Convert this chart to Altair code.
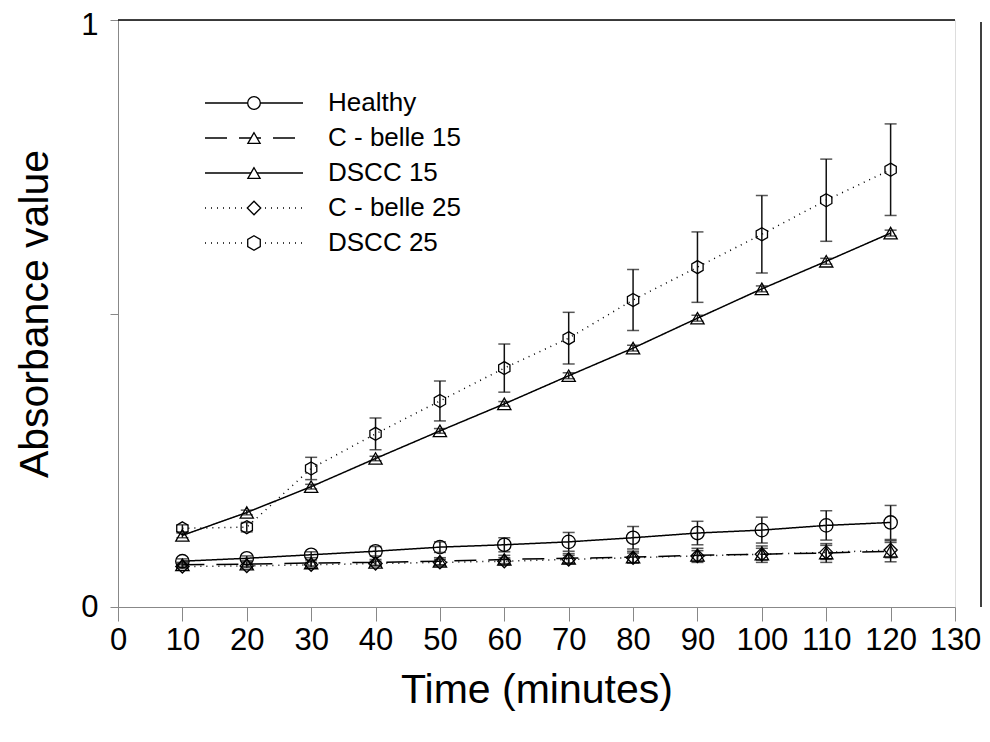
import altair as alt
import pandas as pd

# ---- data ----
time = [10, 20, 30, 40, 50, 60, 70, 80, 90, 100, 110, 120]
series_names = ["Healthy", "C - belle 15", "DSCC 15", "C - belle 25", "DSCC 25"]

healthy = [0.078, 0.083, 0.089, 0.095, 0.102, 0.106, 0.111, 0.118, 0.126, 0.131, 0.139, 0.144]
healthy_err = [0.004, 0.004, 0.005, 0.008, 0.009, 0.012, 0.016, 0.019, 0.020, 0.022, 0.025, 0.029]

cbelle15 = [0.072, 0.073, 0.075, 0.076, 0.078, 0.081, 0.083, 0.085, 0.088, 0.090, 0.092, 0.095]
cbelle15_err = [0.004, 0.004, 0.005, 0.005, 0.006, 0.007, 0.008, 0.010, 0.012, 0.014, 0.016, 0.018]

dscc15 = [0.122, 0.161, 0.205, 0.253, 0.300, 0.346, 0.394, 0.441, 0.492, 0.542, 0.589, 0.637]
dscc15_err = [0.004, 0.004, 0.004, 0.004, 0.004, 0.004, 0.005, 0.005, 0.005, 0.005, 0.005, 0.005]

cbelle25 = [0.069, 0.070, 0.072, 0.074, 0.076, 0.078, 0.081, 0.084, 0.087, 0.090, 0.093, 0.097]
cbelle25_err = [0.003, 0.003, 0.004, 0.004, 0.005, 0.006, 0.007, 0.008, 0.009, 0.010, 0.012, 0.013]

dscc25 = [0.134, 0.136, 0.236, 0.295, 0.351, 0.407, 0.458, 0.523, 0.579, 0.635, 0.693, 0.745]
dscc25_err = [0.006, 0.008, 0.019, 0.027, 0.034, 0.041, 0.044, 0.052, 0.060, 0.066, 0.070, 0.078]

values = [healthy, cbelle15, dscc15, cbelle25, dscc25]
errors = [healthy_err, cbelle15_err, dscc15_err, cbelle25_err, dscc25_err]

# ---- styles ----
HEX = "M0,-1L0.866,-0.5L0.866,0.5L0,1L-0.866,0.5L-0.866,-0.5Z"
shapes = ["circle", "triangle-up", "triangle-up", "diamond", HEX]
dashes = [[1, 0], [22, 12], [1, 0], [1, 5], [1, 5]]
sizes = [180, 170, 170, 200, 230]

W, H = 837, 587
PAD_L, PAD_T = 110, 12
FONT = "Liberation Sans"

rows = []
for name, vals, errs in zip(series_names, values, errors):
    for t, v, e in zip(time, vals, errs):
        rows.append(dict(series=name, time=t, value=v, lo=v - e, hi=v + e))
df = pd.DataFrame(rows)

x_enc = alt.X(
    "time:Q",
    scale=alt.Scale(domain=[0, 130], nice=False, zero=False),
    axis=alt.Axis(
        values=list(range(0, 131, 5)),
        labelExpr="datum.value % 10 === 0 ? datum.label : ''",
        tickSize={"condition": {"test": "datum.value % 10 === 0", "value": 14}, "value": 8},
        labelFlush=False,
        labelOverlap=False,
        labelFontSize=31,
        labelPadding=4,
        grid=False,
        title="Time (minutes)",
        titleFontSize=41,
        titleFontWeight="normal",
        titleX=W / 2,
        titleY=83,
        titleBaseline="middle",
        titleAlign="center",
    ),
)
y_enc = alt.Y(
    "value:Q",
    scale=alt.Scale(domain=[0, 1], nice=False),
    axis=alt.Axis(
        values=[0, 0.5, 1],
        labelExpr="datum.value == 0 ? '0' : (datum.value == 1 ? '1' : '')",
        labelOffset={"condition": {"test": "datum.value == 1", "value": 5}, "value": 0},
        tickSize=8,
        labelPadding=12,
        labelFontSize=31,
        grid=False,
        title="Absorbance value",
        titleFontSize=41,
        titleFontWeight="normal",
        titleAngle=-90,
        titleX=-83,
        titleY=H / 2,
        titleBaseline="middle",
        titleAlign="center",
    ),
)

dash_enc = alt.StrokeDash("series:N", scale=alt.Scale(domain=series_names, range=dashes), legend=None)
shape_enc = alt.Shape("series:N", scale=alt.Scale(domain=series_names, range=shapes), legend=None)
size_enc = alt.Size("series:N", scale=alt.Scale(domain=series_names, range=sizes), legend=None)

base = alt.Chart(df)

lines = base.mark_line(color="black", strokeWidth=1.5, strokeCap="butt").encode(
    x=x_enc, y=y_enc, strokeDash=dash_enc, detail="series:N"
)
bars = base.mark_rule(color="#111111", strokeWidth=1.5).encode(
    x="time:Q", y="lo:Q", y2="hi:Q"
)
caps_hi = base.mark_tick(color="#111111", thickness=1.5, size=12, orient="horizontal").encode(
    x="time:Q", y="hi:Q"
)
caps_lo = base.mark_tick(color="#111111", thickness=1.5, size=12, orient="horizontal").encode(
    x="time:Q", y="lo:Q"
)
points = base.mark_point(filled=False, color="black", strokeWidth=1.3, opacity=1).encode(
    x="time:Q", y="value:Q", shape=shape_enc, size=size_enc
)

# frame pieces (top line and the detached right line)
one = pd.DataFrame({"k": [0]})
top_rule = alt.Chart(one).mark_rule(color="black", strokeWidth=1.5).encode(
    x=alt.value(0), x2=alt.value(W), y=alt.value(0)
)
right_rule = alt.Chart(one).mark_rule(color="black", strokeWidth=1.5).encode(
    x=alt.value(W + 26), y=alt.value(2), y2=alt.value(H)
)

# legend (inside plot, top-left)
leg_layers = []
LX1, LX2, LSYM, LTXT, LY0, LDY = 87, 185, 136, 210, 83, 35
for i, name in enumerate(series_names):
    ly = LY0 + i * LDY
    ldf = pd.DataFrame({"series": [name]})
    lc = alt.Chart(ldf)
    leg_layers.append(
        lc.mark_rule(color="black", strokeWidth=1.5, strokeDash=dashes[i], strokeCap="butt").encode(
            x=alt.value(LX1), x2=alt.value(LX2), y=alt.value(ly)
        )
    )
    leg_layers.append(
        lc.mark_point(filled=False, color="black", strokeWidth=1.3, opacity=1,
                      shape=shapes[i], size=sizes[i] - 20, fill="white").encode(
            x=alt.value(LSYM), y=alt.value(ly)
        )
    )
    leg_layers.append(
        lc.mark_text(align="left", baseline="middle", fontSize=26, font=FONT, color="black").encode(
            x=alt.value(LTXT), y=alt.value(ly), text="series:N"
        )
    )

chart = alt.layer(
    lines, bars, caps_hi, caps_lo, points, top_rule, right_rule, *leg_layers
).properties(
    width=W,
    height=H,
    padding={"left": PAD_L, "top": PAD_T, "right": 974 - PAD_L - W, "bottom": 118},
    autosize=alt.AutoSizeParams(type="none"),
).configure_view(
    stroke=None
).configure_axis(
    domainColor="black",
    domainWidth=1.5,
    tickColor="black",
    tickWidth=1.5,
    labelColor="black",
    titleColor="black",
    labelFont=FONT,
    titleFont=FONT,
).configure(
    background="white"
)

chart.save("out.html", embed_options={"renderer": "svg", "actions": False})
